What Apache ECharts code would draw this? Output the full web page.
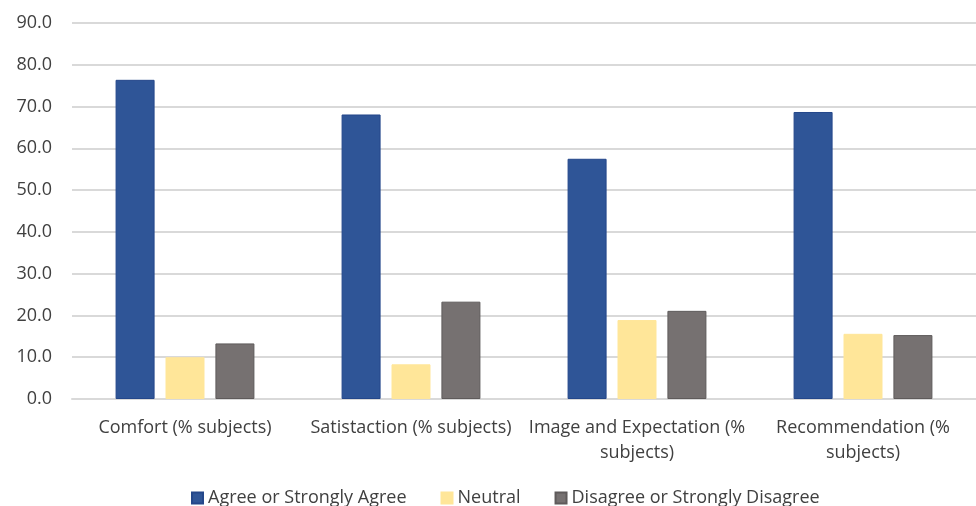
<!DOCTYPE html>
<html>
<head>
<meta charset="utf-8">
<script src="https://cdn.jsdelivr.net/npm/echarts@6/dist/echarts.min.js"></script>
<style>
  html, body { margin: 0; padding: 0; background: #ffffff; }
  #chart { width: 976px; height: 506px; }
</style>
</head>
<body>
<div id="chart"></div>
<script>
// Survey responses per question group (% subjects)
const categories = [
  'Comfort (% subjects)',
  'Satistaction (% subjects)',
  'Image and Expectation (%\nsubjects)',
  'Recommendation (%\nsubjects)'
];
const seriesNames = ['Agree or Strongly Agree', 'Neutral', 'Disagree or Strongly Disagree'];
const agreeValues = [76.4, 68.1, 57.5, 68.7];
const neutralValues = [10.0, 8.3, 18.9, 15.6];
const disagreeValues = [13.3, 23.3, 21.1, 15.3];
const yTicks = { min: 0, max: 90, interval: 10 };

const colors = ['#2F5597', '#FFE699', '#767171'];
const borders = ['#24478a', '#FFE699', '#5f5b5b'];
const font = '"Open Sans", "Noto Sans", sans-serif';

const chart = echarts.init(document.getElementById('chart'), null, { renderer: 'canvas' });

const values = [agreeValues, neutralValues, disagreeValues];

chart.setOption({
  animation: false,
  backgroundColor: '#ffffff',
  grid: { left: 72, right: 0, top: 23, bottom: 107, containLabel: false },
  legend: {
    bottom: -6,
    left: 186,
    itemWidth: 11,
    itemHeight: 11,
    itemGap: 34,
    icon: 'rect',
    textStyle: { fontFamily: font, fontSize: 18, color: '#404040', padding: [0, 0, 0, 0] },
    data: seriesNames
  },
  xAxis: {
    type: 'category',
    data: categories,
    axisLine: { lineStyle: { color: '#d9d9d9', width: 2 } },
    axisTick: { show: false },
    axisLabel: {
      interval: 0,
      margin: 16,
      fontFamily: font,
      fontSize: 18,
      lineHeight: 25,
      color: '#404040'
    }
  },
  yAxis: {
    type: 'value',
    min: yTicks.min,
    max: yTicks.max,
    interval: yTicks.interval,
    axisLine: { show: false },
    axisTick: { show: false },
    splitLine: { lineStyle: { color: '#d9d9d9', width: 2 } },
    axisLabel: {
      margin: 20,
      fontFamily: font,
      fontSize: 18,
      color: '#404040',
      formatter: v => v.toFixed(1)
    }
  },
  series: seriesNames.map((name, i) => ({
    name,
    type: 'bar',
    data: values[i],
    barWidth: 39,
    barGap: '28%',
    itemStyle: { color: colors[i], borderColor: borders[i], borderWidth: 1 }
  }))
});
</script>
</body>
</html>
